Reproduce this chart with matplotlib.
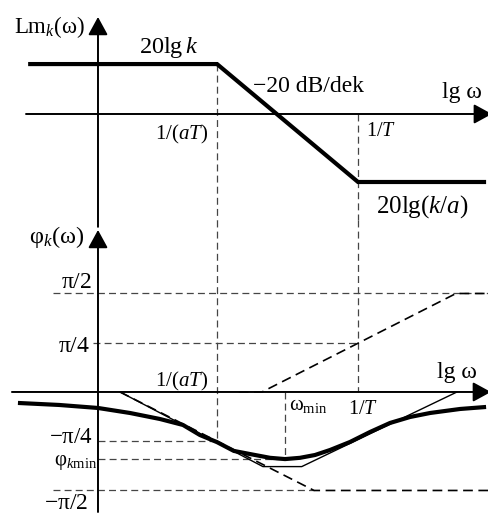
import numpy as np
import matplotlib
matplotlib.use("Agg")
import matplotlib.pyplot as plt

plt.rcParams["font.family"] = ["Liberation Serif", "DejaVu Serif"]
plt.rcParams["mathtext.fontset"] = "custom"
plt.rcParams["mathtext.rm"] = "Liberation Serif"
plt.rcParams["mathtext.it"] = "Liberation Serif:italic"
plt.rcParams["lines.scale_dashes"] = False

# --- data (x in decades of lg w, measured from the vertical axis) ---
w_aT = 1.227     # 1/(aT)
w_T = 2.68       # 1/T
w_min = 1.93     # omega_min

# log-magnitude asymptote, dB
lm_x = [-0.72, 1.227, 2.68, 4.0]
lm_y = [12.3, 12.3, -16.75, -16.75]

# phase, rad
phi_kmin = -1.07
curve_x = [-0.825, -0.40, 0.0, 0.33, 0.639, 0.876, 1.05, 1.227, 1.40, 1.567,
           1.773, 1.928, 2.082, 2.237, 2.392, 2.598, 2.804, 3.01, 3.216,
           3.423, 3.732, 4.0]
curve_y = [-0.175, -0.207, -0.255, -0.335, -0.431, -0.526, -0.686, -0.80,
           -0.94, -0.99, -1.05, -1.07, -1.05, -1.005, -0.925, -0.797, -0.638,
           -0.494, -0.399, -0.335, -0.271, -0.239]
asym_x = [0.227, 1.70, 2.10, 3.70]
asym_y = [0.0, -1.19, -1.19, 0.0]
lag_x = [0.227, 2.227, 4.05]
lag_y = [0.0, -np.pi / 2, -np.pi / 2]
lead_x = [1.45, 1.69, 3.69, 4.05]
lead_y = [0.0, 0.0, np.pi / 2, np.pi / 2]

XLIM = (-1.01, 4.03)
GRAY = "#454545"

fig = plt.figure(figsize=(4.89, 5.14), dpi=100)
ax1 = fig.add_axes([0, 0.572, 1, 0.428])
ax2 = fig.add_axes([0, 0, 1, 0.572])
for ax in (ax1, ax2):
    ax.set_xlim(*XLIM)
    ax.axis("off")
ax1.set_ylim(-26.11, 28.08)
ax2.set_ylim(-1.946, 2.743)

grid = dict(color=GRAY, lw=0.9, dashes=(5, 3), clip_on=False)
arrow = dict(arrowstyle="-|>,head_length=0.55,head_width=0.3", color="k",
             lw=1.4, shrinkA=0, shrinkB=0, mutation_scale=20)

# --- upper: Lm ---
ax1.annotate("", xy=(0, 23.9), xytext=(0, -27.8), arrowprops=arrow,
             annotation_clip=False)
ax1.annotate("", xy=(4.06, 0), xytext=(-0.742, 0), arrowprops=arrow,
             annotation_clip=False)
ax1.plot([w_aT, w_aT], [lm_y[0], -26.11], **grid)
ax1.plot([w_T, w_T], [0, -26.11], **grid)
ax1.plot(lm_x, lm_y, color="k", lw=3, solid_joinstyle="miter",
         solid_capstyle="butt")

ax1.text(-0.134, 19.95, r"$\mathrm{Lm}_{k}\mathrm{(\omega)}$", fontsize=16.5,
         ha="right", va="baseline")
ax1.text(0.423, 15.0, r"$\mathrm{20lg}\,k$", fontsize=17.5, va="baseline")
ax1.text(1.598, 5.42, "\u221220 dB/dek", fontsize=17, va="baseline")
ax1.text(3.546, 3.94, "lg \u03c9", fontsize=17, va="baseline")
ax1.text(1.134, -6.16, r"$\mathrm{1/(}aT\mathrm{)}$", fontsize=15,
         ha="right", va="baseline")
ax1.text(2.763, -5.42, r"$\mathrm{1/}T$", fontsize=14.5, va="baseline")
ax1.text(2.866, -24.4, r"$\mathrm{20lg(}k/a\mathrm{)}$", fontsize=18,
         va="baseline")

# --- lower: phase ---
ax2.annotate("", xy=(0, 2.584), xytext=(0, -1.914), arrowprops=arrow,
             annotation_clip=False)
ax2.annotate("", xy=(4.05, 0), xytext=(-0.887, 0), arrowprops=arrow,
             annotation_clip=False)
ax2.plot([w_aT, w_aT], [2.743, -np.pi / 4], **grid)
ax2.plot([w_T, w_T], [2.743, 0], **grid)
ax2.plot([w_min, w_min], [0, phi_kmin], **grid)
ax2.plot([-0.464, 4.05], [np.pi / 2, np.pi / 2], **grid)
ax2.plot([-0.05, w_T], [np.pi / 4, np.pi / 4], **grid)
ax2.plot([0, w_aT], [-np.pi / 4, -np.pi / 4], **grid)
ax2.plot([0, w_min], [phi_kmin, phi_kmin], **grid)
ax2.plot([-0.464, 2.227], [-np.pi / 2, -np.pi / 2], **grid)

ax2.plot(lead_x, lead_y, color="k", lw=1.2, dashes=(7, 4))
ax2.plot(lag_x, lag_y, color="k", lw=1.2, dashes=(7, 4))
ax2.plot(asym_x, asym_y, color="k", lw=1.0)
ax2.plot(curve_x, curve_y, color="k", lw=3, solid_capstyle="butt",
         solid_joinstyle="round")

ax2.text(-0.144, 2.376, r"$\mathrm{\varphi}_{k}\mathrm{(\omega)}$",
         fontsize=17.5, ha="right", va="baseline")
ax2.text(-0.062, 1.659, r"$\mathrm{\pi/2}$", fontsize=17, ha="right",
         va="baseline")
ax2.text(-0.082, 0.638, r"$\mathrm{\pi/4}$", fontsize=17, ha="right",
         va="baseline")
ax2.text(1.134, 0.08, r"$\mathrm{1/(}aT\mathrm{)}$", fontsize=15,
         ha="right", va="baseline")
ax2.text(3.495, 0.223, "lg \u03c9", fontsize=17, va="baseline")
ax2.text(1.969, -0.287, r"$\mathrm{\omega}_{\mathrm{min}}$", fontsize=15,
         va="baseline")
ax2.text(2.577, -0.351, r"$\mathrm{1/}T$", fontsize=14.5, va="baseline")
ax2.text(-0.052, -0.813, r"$-\mathrm{\pi/4}$", fontsize=16.5, ha="right",
         va="baseline")
ax2.text(-0.01, -1.164, r"$\mathrm{\varphi}_{k\mathrm{min}}$", fontsize=15,
         ha="right", va="baseline")
ax2.text(-0.103, -1.86, r"$-\mathrm{\pi/2}$", fontsize=17, ha="right",
         va="baseline")

fig.savefig("out.png", dpi=100)
